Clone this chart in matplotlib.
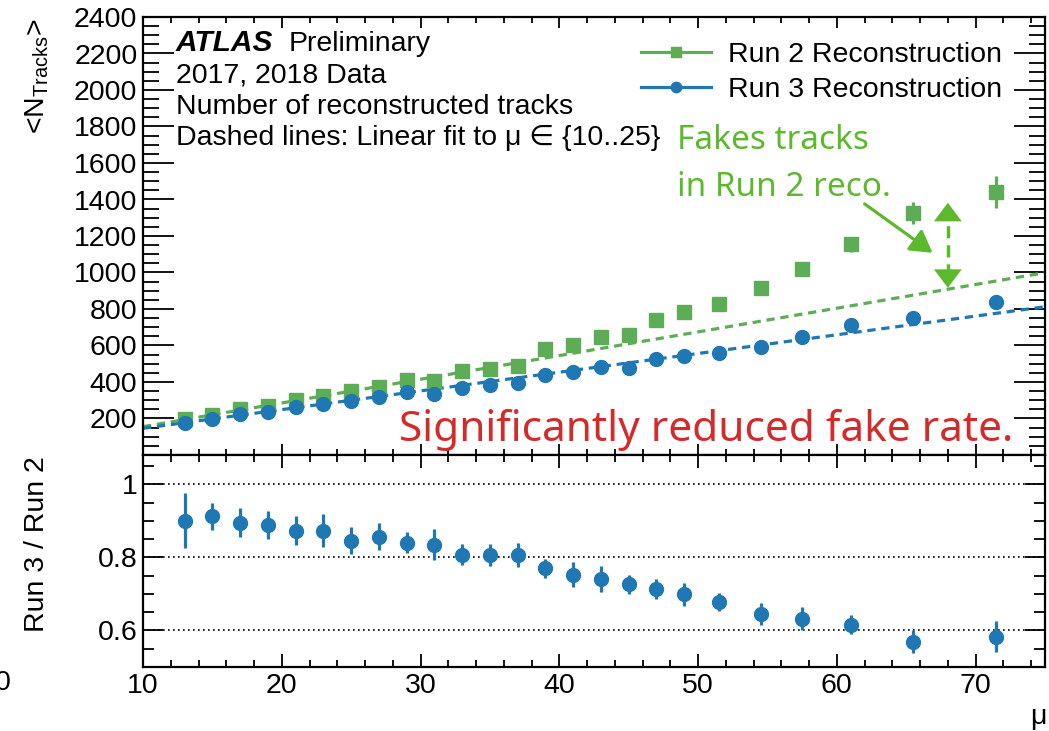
import numpy as np
import matplotlib
matplotlib.use("Agg")
import matplotlib.pyplot as plt
from matplotlib.ticker import MultipleLocator, FixedLocator
from matplotlib.lines import Line2D

# ---- data -------------------------------------------------------------
mu = [13, 15, 17, 19, 21, 23, 25, 27, 29, 31, 33, 35, 37, 39, 41, 43, 45,
      47, 49, 51.5, 54.5, 57.5, 61, 65.5, 71.5]

run2 = [195, 218, 250, 268, 300, 324, 350, 372, 410, 405, 458, 471, 486,
        579, 603, 649, 655, 741, 783, 826, 916, 1020, 1155, 1325, 1440]
run2_err = [6, 6, 6, 6, 6, 6, 6, 7, 8, 8, 8, 8, 9, 10, 10, 11, 12, 20, 18,
            12, 31, 37, 40, 60, 88]

run3 = [173, 198, 222, 237, 262, 282, 295, 319, 343, 335, 368, 381, 392,
        441, 456, 481, 478, 527, 545, 560, 591, 646, 710, 753, 837]
run3_err = [5, 5, 5, 5, 5, 5, 5, 6, 6, 6, 6, 6, 7, 7, 7, 8, 8, 8, 9, 9,
            10, 11, 12, 15, 25]

ratio = [0.900, 0.912, 0.895, 0.889, 0.873, 0.873, 0.846, 0.857, 0.840,
         0.835, 0.807, 0.807, 0.806, 0.770, 0.753, 0.741, 0.727, 0.713,
         0.699, 0.678, 0.644, 0.632, 0.616, 0.569, 0.583]
ratio_err = [0.075, 0.038, 0.039, 0.038, 0.040, 0.045, 0.036, 0.037, 0.029,
             0.042, 0.029, 0.030, 0.032, 0.026, 0.033, 0.036, 0.026, 0.027,
             0.032, 0.024, 0.030, 0.032, 0.027, 0.031, 0.043]

fit_range = (10, 25)
mu_range = (10, 75)
ratio_lines = [0.6, 0.8, 1.0]

series_labels = ["Run 2 Reconstruction", "Run 3 Reconstruction"]

# ---- style --------------------------------------------------------------
GREEN = "#5cad55"
BLUE = "#1f77b4"
NOTE_GREEN = "#5cb82c"
RED = "#d42a2a"
FS = 20.5

plt.rcParams.update({
    "font.family": ["Liberation Sans", "DejaVu Sans"],
    "mathtext.fontset": "custom",
    "mathtext.rm": "Liberation Sans",
    "mathtext.it": "Liberation Sans:italic",
    "mathtext.bf": "Liberation Sans:bold",
    "font.size": FS,
})

W, H, DPI = 1049, 731, 100
fig = plt.figure(figsize=(W / DPI, H / DPI), dpi=DPI)


def fx(px):
    return px / W


def fy(py):
    return 1 - py / H


L, R, T, MID, B = 143, 1045, 17, 455, 667
ax = fig.add_axes([fx(L), fy(MID), fx(R) - fx(L), fy(T) - fy(MID)])
rax = fig.add_axes([fx(L), fy(B), fx(R) - fx(L), fy(MID) - fy(B)], sharex=ax)

mu_arr = np.asarray(mu, float)

# linear fits in the low-pileup region
sel = (mu_arr >= fit_range[0]) & (mu_arr <= fit_range[1])
xfit = np.array(mu_range, float)
p2 = np.polyfit(mu_arr[sel], np.asarray(run2)[sel], 1)
p3 = np.polyfit(mu_arr[sel], np.asarray(run3)[sel], 1)
ax.plot(xfit, np.polyval(p2, xfit), color=GREEN, lw=2.3,
        linestyle=(0, (2.6, 1.8)), zorder=2)
ax.plot(xfit, np.polyval(p3, xfit), color=BLUE, lw=2.3,
        linestyle=(0, (2.6, 1.8)), zorder=2)

ax.errorbar(mu, run2, yerr=run2_err, fmt="s", color=GREEN, ms=9.5,
            elinewidth=2.3, capsize=0, zorder=3)
ax.errorbar(mu, run3, yerr=run3_err, fmt="o", color=BLUE, ms=10,
            elinewidth=2.3, capsize=0, zorder=4)

ax.set_xlim(*mu_range)
ax.set_ylim(0, 2400)
ax.set_yticks(np.arange(200, 2401, 200))
ax.yaxis.set_minor_locator(MultipleLocator(50))
ax.xaxis.set_major_locator(MultipleLocator(10))
ax.xaxis.set_minor_locator(MultipleLocator(2))
ax.tick_params(axis="x", labelbottom=False)

# ratio panel
for yv in ratio_lines:
    rax.axhline(yv, color="black", lw=1.2, linestyle=(0, (1, 2)), zorder=1)
rax.errorbar(mu, ratio, yerr=ratio_err, fmt="o", color=BLUE, ms=10,
             elinewidth=2.3, capsize=0, zorder=3)
rax.set_ylim(0.5, 1.08)
rax.yaxis.set_major_locator(FixedLocator(ratio_lines))
rax.set_yticklabels(["0.6", "0.8", "1"])
rax.yaxis.set_minor_locator(MultipleLocator(0.05))

for a in (ax, rax):
    for s in a.spines.values():
        s.set_linewidth(1.6)
    a.tick_params(which="both", direction="in", top=True, right=True,
                  width=1.3, labelsize=FS)

ax.tick_params(axis="y", which="major", length=22, pad=4)
ax.tick_params(axis="y", which="minor", length=11.5)
ax.tick_params(axis="x", which="major", length=8)
ax.tick_params(axis="x", which="minor", length=4)
rax.tick_params(axis="y", which="major", length=14.5, pad=4)
rax.tick_params(axis="y", which="minor", length=8)
rax.tick_params(axis="x", which="major", length=9.5, pad=4)
rax.tick_params(axis="x", which="minor", length=5)

# axis titles
fig.text(fx(37), fy(19), r"<N$_{\mathrm{Tracks}}$>", rotation=90,
         ha="center", va="top", fontsize=FS)
fig.text(fx(37), fy(456), "Run 3 / Run 2", rotation=90,
         ha="center", va="top", fontsize=FS)
fig.text(fx(1046), fy(717), "\u03bc", ha="right", va="center", fontsize=FS)
# partially visible label at the left edge
fig.text(fx(11), fy(683), "0", ha="right", va="center", fontsize=FS)

# labels block
fig.text(fx(176), fy(51), "ATLAS", fontsize=21.5, fontweight="bold",
         fontstyle="italic", va="baseline")
fig.text(fx(289), fy(51), "Preliminary", fontsize=FS, va="baseline")
fig.text(fx(176), fy(83), "2017, 2018 Data", fontsize=FS, va="baseline")
fig.text(fx(176), fy(114), "Number of reconstructed tracks", fontsize=FS,
         va="baseline")
fig.text(fx(176), fy(145), "Dashed lines: Linear fit to \u03bc \u2208 {10..25}",
         fontsize=FS, va="baseline")

# legend
handles = [
    Line2D([], [], color=GREEN, lw=2.3, marker="s", ms=7),
    Line2D([], [], color=BLUE, lw=2.3, marker="o", ms=7.5),
]
ax.legend(handles, series_labels, loc="upper left",
          bbox_to_anchor=(fx(641), fy(42)), bbox_transform=fig.transFigure,
          frameon=False, borderpad=0, borderaxespad=0, handlelength=2.45,
          handletextpad=0.6, labelspacing=0.33, fontsize=FS)

# annotations
fig.text(fx(677), fy(149), "Fakes tracks", family="Noto Sans", fontsize=24,
         color=NOTE_GREEN, va="baseline")
fig.text(fx(677), fy(196), "in Run 2 reco.", family="Noto Sans", fontsize=24,
         color=NOTE_GREEN, va="baseline")
fig.text(fx(399), fy(441), "Significantly reduced fake rate.",
         family="Noto Sans", fontsize=30.5, color=RED, va="baseline")

ax.annotate("", xy=(66.9, 1108), xytext=(62.0, 1376),
            arrowprops=dict(arrowstyle="-|>,head_length=0.6,head_width=0.35",
                            color=NOTE_GREEN, lw=2.3, shrinkA=0, shrinkB=0,
                            mutation_scale=22))

gap_x = 68
gap_top, gap_bot = 1382, 916
head = 66
ax.plot([gap_x, gap_x], [gap_bot + head, gap_top - head], color=NOTE_GREEN,
        lw=2.5, linestyle=(0, (3.5, 2)), zorder=5)
for tip, base in ((gap_top, gap_top - head), (gap_bot, gap_bot + head)):
    ax.annotate("", xy=(gap_x, tip), xytext=(gap_x, base),
                arrowprops=dict(arrowstyle="-|>,head_length=0.6,head_width=0.45",
                                color=NOTE_GREEN, lw=0.1, shrinkA=0, shrinkB=0,
                                mutation_scale=22))

fig.savefig("out.png", dpi=DPI)
